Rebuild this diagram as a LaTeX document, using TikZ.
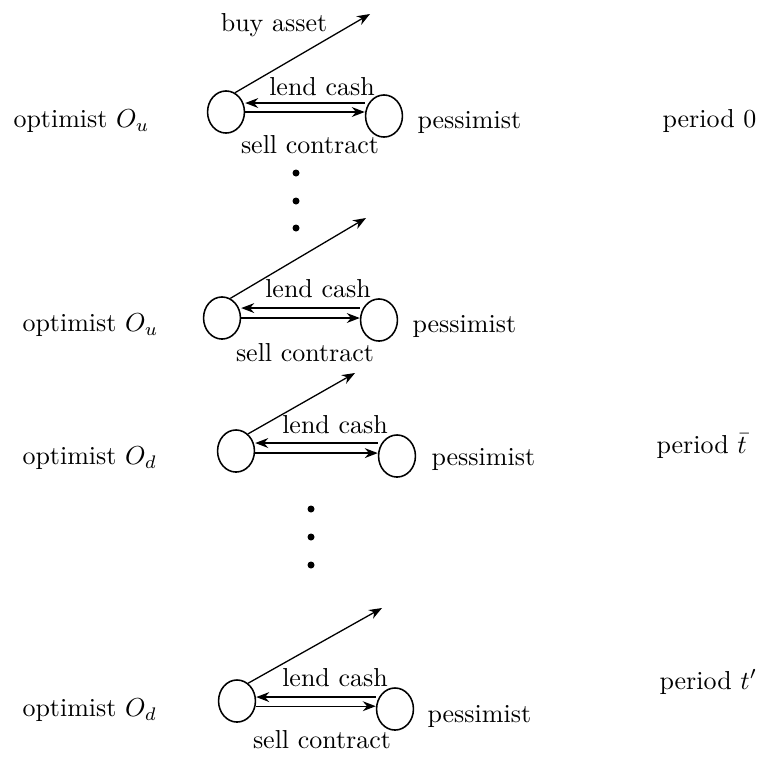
\documentclass[tikz,border=0pt]{standalone}
\usepackage{tikz}
\usetikzlibrary{shapes.geometric, arrows.meta, positioning, calc}
\usepackage{amsmath,amssymb}
\tikzset{
  agent/.style   = {ellipse, draw, semithick, minimum width=14.2pt, minimum height=16.2pt, inner sep=0pt},
  txt/.style     = {inner sep=0pt, font=\normalsize},
  flow/.style    = {-{Stealth[length=5pt, width=3.8pt]}, line width=0.5pt},
  contdot/.style = {fill=black},
}
\begin{document}
\begin{tikzpicture}[x=0.385pt, y=-0.385pt]

% frame of the page
\useasboundingbox (0,0) rectangle (763,756);

% period 0
\node[agent] (o1) at (226,112) {};
\node[agent] (p1) at (384,116) {};
\node[txt, anchor=west] (ol1) at (13,121) {optimist $O_u$};
\node[txt, anchor=west] (pl1) at (417,122) {pessimist};
\node[txt, anchor=west] (per1) at (662,121) {period 0};
\coordinate (b1) at (370,14);
\draw[flow] (o1.65) -- (b1);
\node[txt] (buy1) at (274,25) {buy asset};
\draw[flow] ([yshift=5pt]p1.west) -- ([yshift=5pt]p1.west -| o1.east);
\draw[flow] (o1.east) -- (o1.east -| p1.west);
\node[txt] (lend1) at (322,87) {lend cash};
\node[txt] (sell1) at (310,145) {sell contract};

% dots
\fill[contdot] (296,173) circle (1.35pt);
\fill[contdot] (296,201) circle (1.35pt);
\fill[contdot] (296,228) circle (1.35pt);

% later period, up state
\node[agent] (o2) at (222,318) {};
\node[agent] (p2) at (379,320) {};
\node[txt, anchor=west] (ol2) at (22,325) {optimist $O_u$};
\node[txt, anchor=west] (pl2) at (412,326) {pessimist};
\coordinate (b2) at (366,218);
\draw[flow] (o2.67) -- (b2);
\draw[flow] ([yshift=4.6pt]p2.west) -- ([yshift=4.6pt]p2.west -| o2.east);
\draw[flow] (o2.east) -- (o2.east -| p2.west);
\node[txt] (lend2) at (318,289) {lend cash};
\node[txt] (sell2) at (305,353) {sell contract};

% period \bar t, down state
\node[agent] (o3) at (236,451) {};
\node[agent] (p3) at (397,456) {};
\node[txt, anchor=west] (ol3) at (22,458) {optimist $O_d$};
\node[txt, anchor=west] (pl3) at (431,459) {pessimist};
\node[txt, anchor=west] (per3) at (656,446) {period $\bar{t}$};
\coordinate (b3) at (355,373);
\draw[flow] (o3.55) -- (b3);
\draw[flow] ([yshift=5pt]p3.west) -- ([yshift=5pt]p3.west -| o3.east);
\draw[flow] ([yshift=-0.8pt]o3.east) -- ([yshift=-0.8pt]o3.east -| p3.west);
\node[txt] (lend3) at (335,425) {lend cash};

% dots
\fill[contdot] (311,509) circle (1.35pt);
\fill[contdot] (311,537) circle (1.35pt);
\fill[contdot] (311,565) circle (1.35pt);

% period t'
\node[agent] (o4) at (237,701) {};
\node[agent] (p4) at (395,709) {};
\node[txt, anchor=west] (ol4) at (22,710) {optimist $O_d$};
\node[txt, anchor=west] (pl4) at (427,716) {pessimist};
\node[txt, anchor=west] (per4) at (659,682) {period $t'$};
\coordinate (b4) at (382,608);
\draw[flow] (o4.58) -- (b4);
\draw[flow] ([yshift=4.6pt]p4.west) -- ([yshift=4.6pt]p4.west -| o4.east);
\draw[flow] ([yshift=-2pt]o4.east) -- ([yshift=-2pt]o4.east -| p4.west);
\node[txt] (lend4) at (335,678) {lend cash};
\node[txt] (sell4) at (322,740) {sell contract};

\end{tikzpicture}
\end{document}
